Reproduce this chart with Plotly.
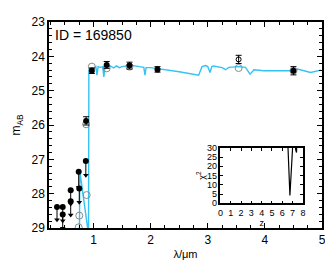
import plotly.graph_objects as go

# Model spectrum (blue line)
spec_lam = [0.745, 0.76, 0.905, 0.91, 0.918, 0.94, 0.98, 1.0, 1.04, 1.06, 1.08, 1.12, 1.16, 1.18, 1.2,
            1.3, 1.35, 1.4, 1.45, 1.5, 1.6, 1.7, 1.8, 1.88, 1.9, 1.92, 2.0, 2.2, 2.5, 2.84, 2.9,
            2.96, 3.0, 3.04, 3.07, 3.1, 3.2, 3.25, 3.31, 3.37, 3.54, 3.66, 3.74, 3.81, 3.98,
            4.2, 4.48, 4.57, 4.7, 4.8, 4.98]
spec_mag = [31.0, 27.35, 29.1, 31.0, 24.4, 24.35, 24.33, 24.35, 24.3, 24.55, 24.3, 24.32, 24.3, 24.6, 24.32,
            24.28, 24.34, 24.28, 24.33, 24.3, 24.27, 24.27, 24.3, 24.32, 24.55, 24.33, 24.33, 24.37, 24.45, 24.55, 24.3,
            24.27, 24.3, 24.47, 24.3, 24.28, 24.3, 24.33, 24.39, 24.32, 24.3, 24.32, 24.52, 24.39, 24.42,
            24.42, 24.42, 24.37, 24.42, 24.47, 24.4]

# Observed photometry with errors
obs_lam = [0.87, 0.97, 1.23, 1.63, 2.12, 4.5]
obs_mag = [25.88, 24.42, 24.25, 24.27, 24.38, 24.42]
obs_err = [0.12, 0.08, 0.1, 0.1, 0.08, 0.12]

# Observed point drawn open
open_lam = [3.54]
open_mag = [24.09]
open_err = [0.12]

# Model photometry (gray open circles)
mod_lam = [0.75, 0.74, 0.88, 0.87, 0.97, 1.23, 1.63, 3.54, 4.5]
mod_mag = [28.64, 28.98, 28.04, 25.98, 24.3, 24.35, 24.3, 24.34, 24.42]

# Upper limits
ul_lam = [0.36, 0.46, 0.46, 0.60, 0.60, 0.74, 0.75, 0.865]
ul_mag = [28.39, 28.39, 28.61, 27.90, 28.22, 27.36, 27.85, 27.05]
ul_len = [0.37, 0.4, 0.4, 0.4, 0.4, 0.45, 0.4, 0.41]

# Chi^2 vs redshift (inset)
z_vals = [6.45, 6.6, 6.74, 6.85, 7.0, 7.1, 7.2, 7.3, 7.38, 7.45]
chi2_vals = [45, 21, 4.2, 15, 32, 40, 36, 29, 27.5, 40]

blue = "#33c3f4"
fig = go.Figure()

fig.add_trace(go.Scatter(x=spec_lam, y=spec_mag, mode="lines",
                         line=dict(color=blue, width=1.4), showlegend=False, cliponaxis=True))

fig.add_trace(go.Scatter(x=mod_lam, y=mod_mag, mode="markers",
                         marker=dict(symbol="circle-open", size=7, color="#8a8a8a", line=dict(width=1)),
                         showlegend=False))

# upper limit stems
fig.add_trace(go.Scatter(x=ul_lam, y=ul_mag, mode="markers",
                         marker=dict(size=6, color="black"),
                         error_y=dict(type="data", array=ul_len, arrayminus=[0]*len(ul_len),
                                      color="black", thickness=1, width=0),
                         showlegend=False))
fig.add_trace(go.Scatter(x=ul_lam, y=[m + l for m, l in zip(ul_mag, ul_len)], mode="markers",
                         marker=dict(symbol="triangle-down", size=5, color="black"),
                         showlegend=False))

fig.add_trace(go.Scatter(x=obs_lam, y=obs_mag, mode="markers",
                         marker=dict(size=6, color="black"),
                         error_y=dict(type="data", array=obs_err, color="black", thickness=1, width=3),
                         showlegend=False))
fig.add_trace(go.Scatter(x=open_lam, y=open_mag, mode="markers",
                         marker=dict(symbol="circle-open", size=5, color="black", line=dict(width=1)),
                         error_y=dict(type="data", array=open_err, color="black", thickness=1, width=3),
                         showlegend=False))

fig.add_trace(go.Scatter(x=z_vals, y=chi2_vals, mode="lines", xaxis="x2", yaxis="y2",
                         line=dict(color="black", width=1.2), showlegend=False))

font = "Liberation Sans, Arial, sans-serif"
axis_common = dict(showline=True, linecolor="black", linewidth=1.5, mirror="ticks",
                   ticks="inside", tickwidth=1, tickcolor="black",
                   showgrid=False, zeroline=False)

# page body has an 8px default margin, so the figure is sized to compensate
fig.update_layout(
    width=325, height=258,
    margin=dict(l=38, r=7, t=9, b=38),
    paper_bgcolor="white", plot_bgcolor="white",
    font=dict(family=font, size=12, color="black"),
    xaxis=dict(range=[0.22, 5], tick0=1, dtick=1, domain=[0, 1], ticklen=5,
               minor=dict(dtick=0.25, tick0=0, ticks="inside", ticklen=3, tickcolor="black"),
               title=dict(text="λ/μm", font=dict(size=11), standoff=4),
               **axis_common),
    yaxis=dict(range=[29, 23], dtick=1, domain=[0, 1], ticklen=5,
               minor=dict(dtick=0.2, ticks="inside", ticklen=3, tickcolor="black"),
               title=dict(text="m<sub>AB</sub>", font=dict(size=12), standoff=8),
               **axis_common),
    xaxis2=dict(range=[0, 8], dtick=1, domain=[0.628, 0.930], anchor="y2",
                tickfont=dict(size=9), ticklen=3,
                title=dict(text="z", font=dict(size=9), standoff=0),
                **axis_common),
    yaxis2=dict(range=[0, 30], dtick=5, domain=[0.12, 0.389], anchor="x2",
                tickfont=dict(size=9), ticklen=3,
                title=dict(text="χ<sup>2</sup>", font=dict(size=9), standoff=0),
                **axis_common),
    annotations=[dict(text="ID = 169850", xref="paper", yref="paper", x=0.015, y=0.985,
                      xanchor="left", yanchor="top", showarrow=False, font=dict(size=14))],
)

fig.write_html("out.html")
